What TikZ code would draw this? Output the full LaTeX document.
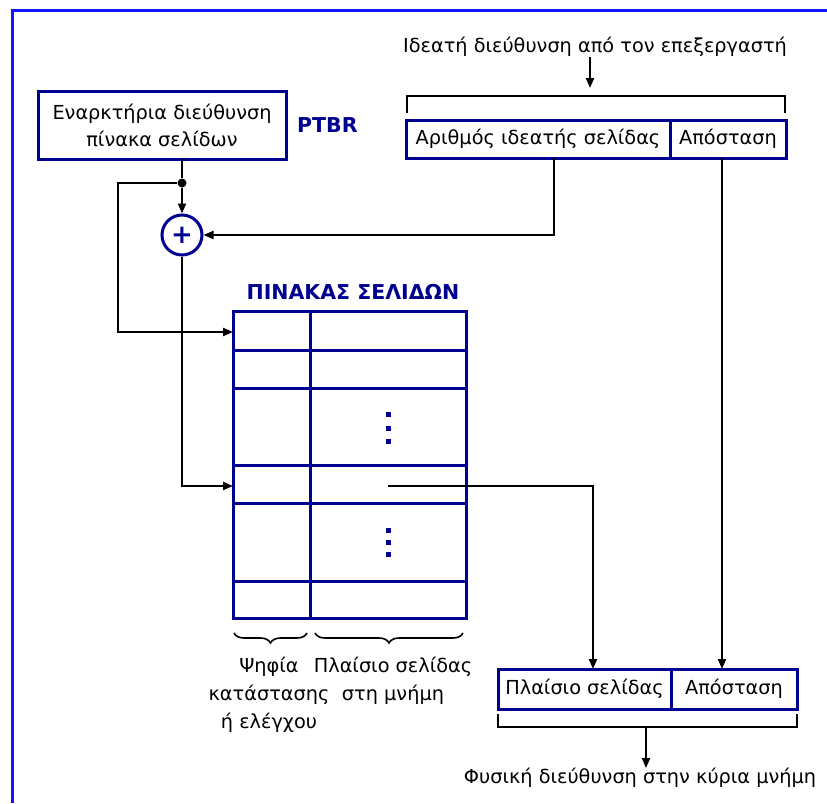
\documentclass[tikz,border=0pt]{standalone}
\usepackage{fontspec}
\setmainfont{DejaVu Sans}
\usepackage{xcolor}
\usepackage{tikz}
\usetikzlibrary{positioning,arrows.meta,decorations.pathreplacing}

\definecolor{regblue}{RGB}{0,0,145}
\definecolor{frameblue}{RGB}{20,20,255}

\tikzset{
    regbox/.style={draw=regblue, line width=3pt, outer sep=0pt, inner sep=0pt, minimum height=38pt},
    tablebox/.style={draw=regblue, line width=3pt, outer sep=0pt, inner sep=0pt},
    tabline/.style={draw=regblue, line width=3pt},
    adder/.style={circle, draw=regblue, line width=3pt, minimum size=40pt, inner sep=0pt, text=regblue, font=\bfseries\fontsize{26}{26}\selectfont},
    junct/.style={circle, fill=black, inner sep=0pt, minimum size=9pt},
    tag/.style={inner sep=0pt, text=regblue, font=\bfseries\fontsize{20.5}{24}\selectfont},
    link/.style={line width=2pt},
    arr/.style={link, -{Triangle[length=10pt,width=8pt]}},
    bracket/.style={line width=2pt},
    curly/.style={line width=1.6pt, decorate, decoration={brace, mirror, amplitude=10pt}},
    framebar/.style={draw=frameblue, line width=3pt}
}

\begin{document}
\begin{tikzpicture}[x=1pt, y=-1pt, font=\fontsize{19.3}{27}\selectfont]
    \useasboundingbox (0,0) rectangle (827,803);
    \draw[framebar] (12,803) |- (827,10);

    % base register and adder
    \node[regbox, minimum width=248pt, minimum height=68pt, align=center] (ptbr) at (162,125) {Εναρκτήρια διεύθυνση\\πίνακα σελίδων};
    \node[tag, right=11pt of ptbr] (ptbrtag) {PTBR};
    \node[junct] (split) at (182,183) {};
    \node[adder] (plus) at (182,235) {+};

    % virtual address
    \node[inner sep=0pt] (vaddr) at (595,47) {Ιδεατή διεύθυνση από τον επεξεργαστή};
    \node[regbox, minimum width=264pt] (vpn) at (538,139) {Αριθμός ιδεατής σελίδας};
    \node[regbox, minimum width=116pt, right=0pt of vpn] (voff) {Απόσταση};

    % page table
    \node[tag] (pttitle) at (353,292) {ΠΙΝΑΚΑΣ ΣΕΛΙΔΩΝ};
    \node[tablebox, minimum width=233pt, minimum height=307pt] (pt) at (349.5,464.5) {};
    \draw[tabline] (310,311) -- (310,618);
    \foreach \y in {350,388,465,503,581}
        \draw[tabline] (233,\y) -- (466,\y);
    \foreach \y in {414,428,441,530,542,554}
        \fill[regblue] (385.5,\y-2.5) rectangle (390.5,\y+2.5);

    \draw[curly] (234,633) -- (307,633);
    \draw[curly] (315,633) -- (463,633);
    \node[inner sep=0pt, align=center, anchor=north, font=\fontsize{19.3}{28}\selectfont] (statebits) at (269,657) {Ψηφία\\κατάστασης\\ή ελέγχου};
    \node[inner sep=0pt, align=center, anchor=north, font=\fontsize{19.3}{28}\selectfont] (framebits) at (393,657) {Πλαίσιο σελίδας\\στη μνήμη};

    % physical address
    \node[regbox, minimum width=173pt, minimum height=40pt] (pframe) at (584.5,689) {Πλαίσιο σελίδας};
    \node[regbox, minimum width=126pt, minimum height=40pt, right=0pt of pframe] (poff) {Απόσταση};
    \node[inner sep=0pt] (paddr) at (640,778) {Φυσική διεύθυνση στην κύρια μνήμη};

    \coordinate (row1) at (233,332);
    \coordinate (row4) at (233,486);
    \coordinate (vpnout) at (554,158);
    \coordinate (voffout) at (722,158);
    \coordinate (entry) at (388,486);
    \coordinate (framein) at (593,669);
    \coordinate (poffin) at (722,669);
    \coordinate (vtop) at (590,96);
    \coordinate (pbot) at (646,727);

    % connectors
    \draw[link] (ptbr.south -| split) -- (split);
    \draw[arr] (split) -- (plus);
    \draw[arr] (split) -| (118,332) -- (row1);
    \draw[arr] (vpnout) |- (plus);
    \draw[arr] (plus) |- (row4);
    \draw[arr] (entry) -| (framein);
    \draw[arr] (voffout) -- (poffin);
    \draw[arr] (vaddr.south -| vtop) -- ([yshift=8pt]vtop);
    \draw[bracket] (407,113) |- (vtop) -| (785,113);
    \draw[bracket] (498,714) |- (pbot) -| (797,714);
    \draw[arr] (pbot) -- (paddr.north -| pbot);
\end{tikzpicture}
\end{document}
